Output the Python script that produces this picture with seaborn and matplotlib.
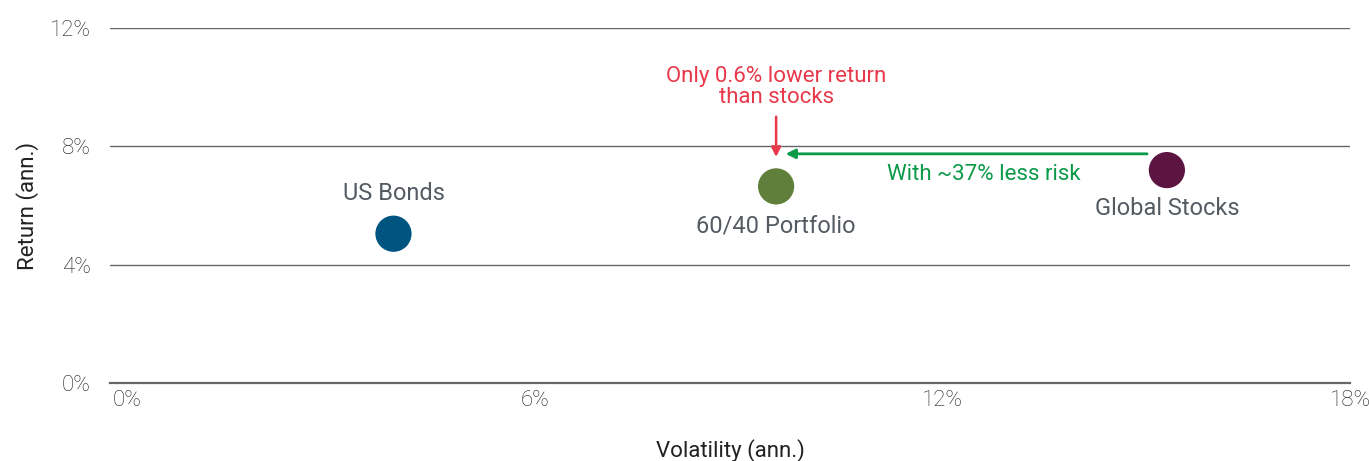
import pandas as pd
import matplotlib.pyplot as plt
import seaborn as sns
from matplotlib.ticker import FuncFormatter

# data
assets = ['US Bonds', '60/40 Portfolio', 'Global Stocks']
volatility = [3.92, 9.55, 15.3]
returns = [5.05, 6.65, 7.2]
colors = ['#005480', '#5f7f3a', '#5c1440']
x_ticks = [0, 6, 12, 18]
y_ticks = [0, 4, 8, 12]

df = pd.DataFrame({'Asset': assets, 'Volatility': volatility, 'Return': returns})

sns.set_theme(style="white")
plt.rcParams['font.family'] = ['Roboto', 'DejaVu Sans']

fig = plt.figure(figsize=(13.69, 4.61), dpi=100)
ax = fig.add_axes([0.0804, 0.169, 0.906, 0.770])

sns.scatterplot(data=df, x='Volatility', y='Return', hue='Asset', palette=colors,
                s=680, edgecolor='none', legend=False, ax=ax, zorder=3)

ax.set_xlim(-0.25, 18)
ax.set_ylim(0, 12)
ax.set_xticks(x_ticks)
ax.set_yticks(y_ticks)
ax.xaxis.set_major_formatter(FuncFormatter(lambda v, p: f'{v:.0f}%'))
ax.yaxis.set_major_formatter(FuncFormatter(lambda v, p: f'{v:.0f}%'))
ax.tick_params(axis='both', length=0, labelsize=16, colors='#222222')
ax.tick_params(axis='x', pad=5)
ax.tick_params(axis='y', pad=14)
for lab in ax.get_yticklabels() + ax.get_xticklabels():
    lab.set_fontweight('light')

ax.grid(axis='y', color='#666666', linewidth=1)
ax.grid(axis='x', visible=False)
for side in ['top', 'right', 'left']:
    ax.spines[side].set_visible(False)
ax.spines['bottom'].set_color('#666666')
ax.spines['bottom'].set_linewidth(1.6)

ax.set_xlabel('Volatility (ann.)', fontsize=16, color='#222222', labelpad=20)
ax.set_ylabel('Return (ann.)', fontsize=16, color='#222222', labelpad=8)

# point labels
label_offsets = {'US Bonds': (0, 1.35), '60/40 Portfolio': (0, -1.35), 'Global Stocks': (0, -1.3)}
for a, xv, yv in zip(assets, volatility, returns):
    dx, dy = label_offsets[a]
    ax.text(xv + dx, yv + dy, a, ha='center', va='center', fontsize=17, color='#555b63')

# annotations
red = '#e8394a'
green = '#0a9a48'
ax.annotate('', xy=(volatility[1], 7.55), xytext=(volatility[1], 9.1),
            arrowprops=dict(arrowstyle='-|>', color=red, lw=1.8, mutation_scale=14))
ax.text(volatility[1], 10.0, 'Only 0.6% lower return\nthan stocks', ha='center', va='center',
        fontsize=16, color=red, linespacing=1.0)
ax.annotate('', xy=(volatility[1] + 0.1, 7.75), xytext=(volatility[2] - 0.25, 7.75),
            arrowprops=dict(arrowstyle='-|>', color=green, lw=2, mutation_scale=14))
ax.text(12.6, 7.05, 'With ~37% less risk', ha='center', va='center', fontsize=16, color=green)

fig.savefig('out.png', dpi=100)
